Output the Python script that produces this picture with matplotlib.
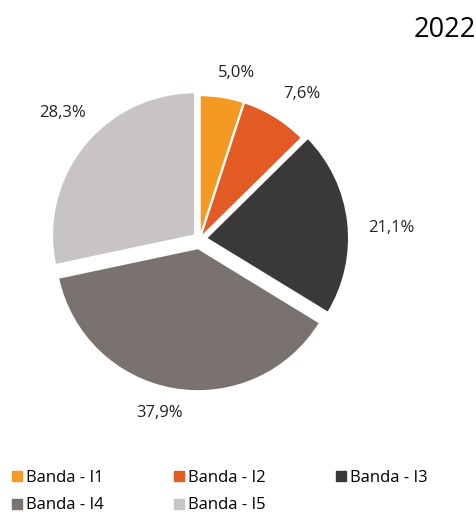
import numpy as np
import matplotlib
matplotlib.use("Agg")
import matplotlib.pyplot as plt
from matplotlib.lines import Line2D

plt.rcParams['font.family'] = ['Open Sans', 'DejaVu Sans']

# Datos
labels = ['Banda - I1', 'Banda - I2', 'Banda - I3', 'Banda - I4', 'Banda - I5']
values = [5.0, 7.6, 21.1, 37.9, 28.3]
colors = ['#F49A22', '#E25A24', '#3B3937', '#79726F', '#C8C4C3']
explode = [0.005, 0.005, 0.045, 0.065, 0.04]
title = '2022'

fig = plt.figure(figsize=(4.77, 5.15), dpi=100)
ax = fig.add_axes([0.0734, 0.2165, 0.690, 0.639])

wedges, texts = ax.pie(
    values, colors=colors, startangle=90, counterclock=False,
    explode=explode, radius=1.0,
    wedgeprops=dict(edgecolor='white', linewidth=1.5))

# etiquetas de porcentaje fuera de cada sector
for w, v in zip(wedges, values):
    ang = np.deg2rad((w.theta1 + w.theta2) / 2 - 3.5)
    d = 1.15 + 0.15 * abs(np.cos(ang))
    cx, cy = w.center
    ax.text(cx + d * np.cos(ang), cy + d * np.sin(ang),
            f'{v:.1f}'.replace('.', ',') + '%',
            ha='center', va='center', fontsize=12, color='#222222')

ax.set_xlim(-1.15, 1.15)
ax.set_ylim(-1.15, 1.15)
ax.set_aspect('equal')
ax.axis('off')

fig.text(0.997, 0.942, title, ha='right', va='center', fontsize=19.5, color='black')

# Leyenda (orden por filas)
handles = [Line2D([], [], marker='s', linestyle='none', markersize=7.5,
                  color=c) for c in colors]
order = [0, 3, 1, 4, 2]
fig.legend([handles[i] for i in order], [labels[i] for i in order],
           ncol=3, loc='lower left', bbox_to_anchor=(-0.006, -0.026),
           frameon=False, fontsize=12, handlelength=0.6, handletextpad=0.25,
           columnspacing=4.2, labelspacing=0.7)

fig.savefig('out.png', dpi=100)
